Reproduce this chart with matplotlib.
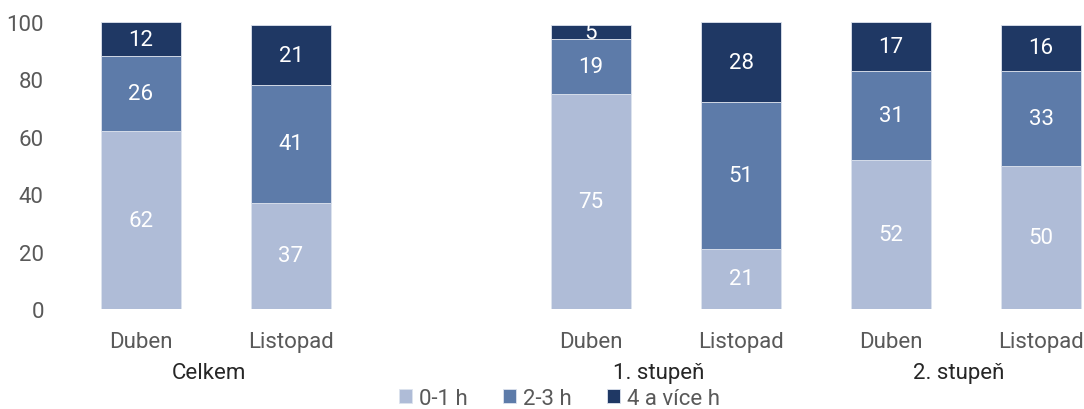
import numpy as np
import matplotlib.pyplot as plt
from matplotlib.transforms import blended_transform_factory

# data
months = ["Duben", "Listopad", "", "Duben", "Listopad", "Duben", "Listopad"]
groups = ["Celkem", "1. stupeň", "2. stupeň"]
series = ["0-1 h", "2-3 h", "4 a více h"]
low = [62, 37, None, 75, 21, 52, 50]
mid = [26, 41, None, 19, 51, 31, 33]
high = [12, 21, None, 5, 28, 17, 16]

colors = ["#AFBCD7", "#5D7BA9", "#1F3864"]
plt.rcParams["font.family"] = ["Roboto", "DejaVu Sans"]

fig = plt.figure(figsize=(10.84, 4.10), dpi=100)
ax = fig.add_axes([66 / 1084, 100 / 410, 1018 / 1084, 287 / 410])

x = np.arange(len(months))
keep = [i for i in range(len(months)) if low[i] is not None]
xs = x[keep]
vals = [np.array([s[i] for i in keep], dtype=float) for s in (low, mid, high)]

bottom = np.zeros(len(xs))
for v, c, name in zip(vals, colors, series):
    ax.bar(xs, v, 0.533, bottom=bottom, color=c, edgecolor="#dde3ee",
           linewidth=0.6, label=name)
    for xi, b, vi in zip(xs, bottom, v):
        ax.text(xi, b + vi / 2, f"{vi:.0f}", ha="center", va="center",
                color="white", fontsize=16)
    bottom += v

ax.set_xlim(-0.5, -0.5 + 1018 / 150)
ax.set_ylim(0, 100)
ax.set_yticks(range(0, 101, 20))
ax.set_xticks(xs)
ax.set_xticklabels([months[i] for i in keep])
ax.tick_params(axis="both", length=0, labelsize=16, labelcolor="#595959")
ax.tick_params(axis="y", pad=16)
ax.tick_params(axis="x", pad=16)
for sp in ax.spines.values():
    sp.set_visible(False)

trans = blended_transform_factory(ax.transData, ax.transAxes)
for g, (a, b) in zip(groups, [(0, 1), (3, 4), (5, 6)]):
    ax.text((a + b) / 2 - 0.05, -64 / 287, g, transform=trans, ha="center",
            va="center", fontsize=16, color="#262626")

fig.legend(loc="center", bbox_to_anchor=(0.516, 0.026), ncol=3, frameon=False,
           fontsize=16, handlelength=0.6, handleheight=0.6, handletextpad=0.3,
           columnspacing=1.6, labelcolor="#595959")

fig.savefig("out.png", dpi=100)
